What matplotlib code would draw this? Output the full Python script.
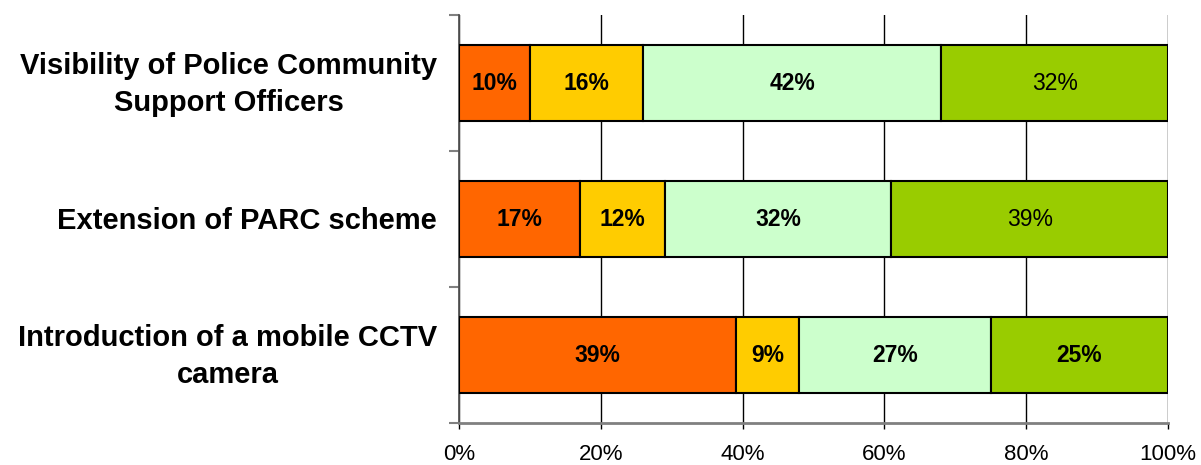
import matplotlib.pyplot as plt
import matplotlib.transforms as mtransforms
import numpy as np

plt.rcParams['font.family'] = ['Liberation Sans', 'DejaVu Sans']

# Data
categories = ["Visibility of Police Community\nSupport Officers",
              "Extension of PARC scheme",
              "Introduction of a mobile CCTV\ncamera"]
seg1 = [10, 17, 39]
seg2 = [16, 12, 9]
seg3 = [42, 32, 27]
seg4 = [32, 39, 25]
colors = ["#FF6600", "#FFCC00", "#CCFFCC", "#99CC00"]
# which labels are bold, per segment and row
bold = [[True, True, True], [True, True, True], [True, True, True], [False, False, True]]
xticks = [0, 20, 40, 60, 80, 100]

fig = plt.figure(figsize=(12.01, 4.65), dpi=100)
ax = fig.add_axes([459 / 1201, 1 - 423 / 465, (1168 - 459) / 1201, (423 - 15) / 465])

ypos = np.array([2, 1, 0])
left = np.zeros(3)
for i, seg in enumerate([seg1, seg2, seg3, seg4]):
    seg = np.array(seg)
    ax.barh(ypos, seg, left=left, height=0.565, color=colors[i],
            edgecolor="black", linewidth=1.5, zorder=3)
    for j in range(3):
        ax.text(left[j] + seg[j] / 2, ypos[j], f"{seg[j]}%", ha="center", va="center",
                fontsize=16.5, fontweight="bold" if bold[i][j] else "normal", zorder=4)
    left = left + seg

ax.set_xlim(0, 100)
ax.set_ylim(-0.5, 2.5)
ax.set_xticks(xticks)
ax.set_xticklabels([f"{x}%" for x in xticks], fontsize=16)
ax.tick_params(axis="x", length=4, width=1, color="black", pad=11)
ax.xaxis.grid(True, color="black", linewidth=1, zorder=0)

ax.set_yticks([-0.5, 0.5, 1.5, 2.5])
ax.set_yticklabels([])
ax.tick_params(axis="y", which="major", length=7, color="#808080", width=1.5)

# category labels, centred lines to the left of the axis
trans = mtransforms.blended_transform_factory(ax.transAxes, ax.transData)
for y, lab in zip(ypos, categories):
    ax.text(-0.031, y - 0.012, lab, transform=trans, ha="right", va="center",
            multialignment="center", fontsize=21, fontweight="bold", linespacing=1.4)

for s in ["top", "right"]:
    ax.spines[s].set_visible(False)
ax.spines["left"].set_color("#555555")
ax.spines["left"].set_linewidth(1.3)
ax.spines["bottom"].set_color("#808080")
ax.spines["bottom"].set_linewidth(2)

fig.savefig("out.png", dpi=100)
